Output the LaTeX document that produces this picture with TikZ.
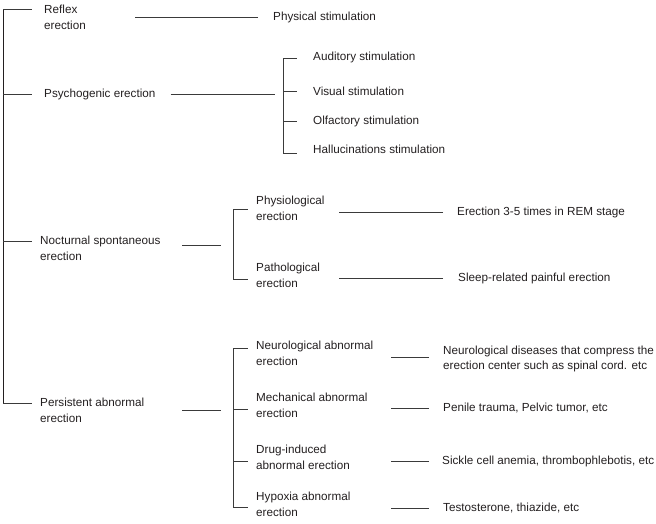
\documentclass[tikz,border=0pt]{standalone}
\usepackage{fontspec}
\setmainfont{Liberation Sans}
\definecolor{txt}{HTML}{231F20}
\definecolor{ln}{HTML}{3A3A3A}
\tikzset{
  lbl/.style={anchor=west, inner sep=0pt, align=left, text=txt, font=\fontsize{11.7}{15.5}\selectfont},
  conn/.style={draw=ln, line width=0.75pt},
  trunk/.style={draw=txt, line width=0.9pt}
}
\begin{document}
\begin{tikzpicture}[x=1pt,y=-1pt]
\useasboundingbox (0,0) rectangle (656,523);
% level 1
\node[lbl] (reflex) at (44,17.5) {Reflex\\erection};
\node[lbl] (psy) at (44,94) {Psychogenic erection};
\node[lbl] (noct) at (40,248.5) {Nocturnal spontaneous\\erection};
\node[lbl] (pers) at (40,410.5) {Persistent abnormal\\erection};
% level 2 / 3
\node[lbl] (phys) at (273,17) {Physical stimulation};
\node[lbl] (aud) at (313,57) {Auditory stimulation};
\node[lbl] (vis) at (313,91) {Visual stimulation};
\node[lbl] (olf) at (313,121) {Olfactory stimulation};
\node[lbl] (hal) at (313,149) {Hallucinations stimulation};
\node[lbl] (physio) at (256,208.5) {Physiological\\erection};
\node[lbl] (patho) at (256,275.5) {Pathological\\erection};
\node[lbl] (rem) at (457,212) {Erection 3-5 times in REM stage};
\node[lbl] (sleep) at (458,278) {Sleep-related painful erection};
\node[lbl] (neuro) at (256,353.5) {Neurological abnormal\\erection};
\node[lbl] (mech) at (256,405.5) {Mechanical abnormal\\erection};
\node[lbl] (drug) at (256,457.5) {Drug-induced\\abnormal erection};
\node[lbl] (hyp) at (256,504.5) {Hypoxia abnormal\\erection};
\node[lbl] (nd) at (443,359) {Neurological diseases that compress the\\erection center such as spinal cord. etc};
\node[lbl] (pen) at (443,408) {Penile trauma, Pelvic tumor, etc};
\node[lbl] (sick) at (442,461) {Sickle cell anemia, thrombophlebotis, etc};
\node[lbl] (test) at (443,508) {Testosterone, thiazide, etc};
% trunk
\coordinate (t1) at (3,9);
\coordinate (t2) at (3,94);
\coordinate (t3) at (3,241);
\coordinate (t4) at (3,403);
\draw[trunk] (t1) -- (t4);
\draw[conn] (t1) -- ([xshift=-12pt]t1 -| reflex.west);
\draw[conn] (t2) -- ([xshift=-12pt]t2 -| psy.west);
\draw[conn] (t3) -- ([xshift=-8pt]t3 -| noct.west);
\draw[conn] (t4) -- ([xshift=-8pt]t4 -| pers.west);
% reflex
\draw[conn] ([xshift=-15pt]phys.west) -- ++(-123,0);
% psychogenic
\coordinate (pb1) at (283,58);
\coordinate (pb2) at (283,153);
\draw[conn] ([xshift=15pt]psy.east) -- (275,94);
\draw[conn] (pb1) -- (pb2);
\draw[conn] (pb1) -- ([xshift=-16pt]pb1 -| aud.west);
\draw[conn] (pb1 |- vis.west) -- ([xshift=-16pt]vis.west);
\draw[conn] (pb1 |- olf.west) -- ([xshift=-16pt]olf.west);
\draw[conn] (pb2) -- ([xshift=-16pt]pb2 -| hal.west);
% nocturnal
\coordinate (nb1) at (233,209);
\coordinate (nb2) at (233,279);
\draw[conn] (182,245) -- (221,245);
\draw[conn] (nb1) -- (nb2);
\draw[conn] (nb1) -- ([xshift=-8pt]nb1 -| physio.west);
\draw[conn] (nb2) -- ([xshift=-8pt]nb2 -| patho.west);
\draw[conn] ([xshift=-14pt]rem.west) -- ++(-104,0);
\draw[conn] ([xshift=-15pt]sleep.west) -- ++(-104,0);
% persistent
\coordinate (qb1) at (233,348);
\coordinate (qb2) at (233,409);
\coordinate (qb3) at (233,461);
\coordinate (qb4) at (233,507);
\coordinate (nd1) at (429,357);
\draw[conn] (182,410) -- (221,410);
\draw[conn] (qb1) -- (qb4);
\draw[conn] (qb1) -- ([xshift=-8pt]qb1 -| neuro.west);
\draw[conn] (qb2) -- ([xshift=-8pt]qb2 -| mech.west);
\draw[conn] (qb3) -- ([xshift=-8pt]qb3 -| drug.west);
\draw[conn] (qb4) -- ([xshift=-8pt]qb4 -| hyp.west);
\draw[conn] (nd1) -- ++(-38,0);
\draw[conn] ([xshift=-14pt]pen.west) -- ++(-38,0);
\draw[conn] ([xshift=-13pt]sick.west) -- ++(-38,0);
\draw[conn] ([xshift=-14pt]test.west) -- ++(-38,0);
\end{tikzpicture}
\end{document}
